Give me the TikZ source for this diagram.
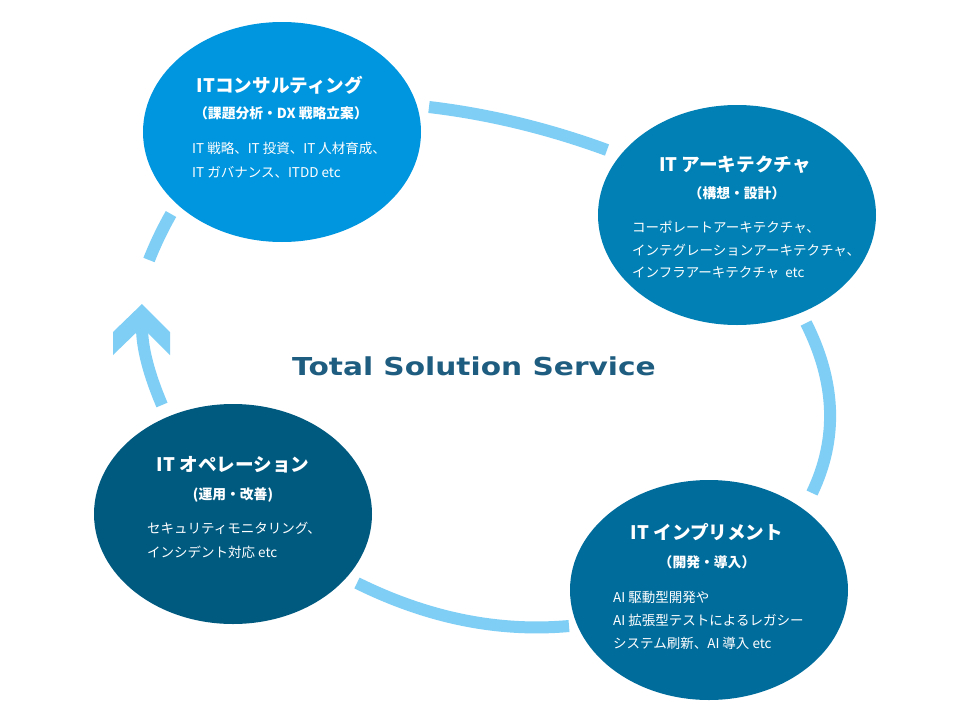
\documentclass[tikz,border=0pt]{standalone}
\usepackage{fontspec}
\usetikzlibrary{shapes.geometric}
\newfontfamily\jp{Noto Sans CJK JP}
\newfontfamily\ttl[FakeStretch=1.2]{DejaVu Sans Bold}
\definecolor{cA}{HTML}{0096DF}
\definecolor{cB}{HTML}{0080B4}
\definecolor{cC}{HTML}{006C9C}
\definecolor{cD}{HTML}{005A80}
\definecolor{arcC}{HTML}{7ECEF5}
\definecolor{ttlC}{HTML}{1F5D80}
\begin{document}
\begin{tikzpicture}[x=1pt,y=-1pt,
  bubble/.style={ellipse, minimum width=278pt, minimum height=220pt, inner sep=0pt, draw=none},
  head/.style={text=white, font=\jp\bfseries\fontsize{18.6}{22}\selectfont, inner sep=0pt},
  subt/.style={text=white, font=\jp\bfseries\fontsize{13.8}{16}\selectfont, inner sep=0pt},
  body/.style={text=white, font=\jp\fontsize{13.5}{16}\selectfont, inner sep=0pt, anchor=west},
  ring/.style={draw=arcC, line width=12pt, line cap=butt}]
\useasboundingbox[fill=white] (0,0) rectangle (978,720);

% bubbles
\node[bubble, fill=cA] (cons) at (282,132) {};
\node[bubble, fill=cB] (arch) at (737,215) {};
\node[bubble, fill=cC] (impl) at (709,590) {};
\node[bubble, fill=cD] (oper) at (233,514) {};

% connector end points
\coordinate (t1) at (429,107);
\coordinate (t2) at (607,150);
\coordinate (r1) at (806,323);
\coordinate (r2) at (812,493);
\coordinate (b1) at (569,626);
\coordinate (b2) at (357,583);
\coordinate (l1) at (162,405);
\coordinate (l2) at (142,327);
\coordinate (u1) at (149,260);
\coordinate (u2) at (171,214);

\draw[ring] (t1) .. controls (488.3,114) and (547.7,128.3) .. (t2);
\draw[ring] (r1) .. controls (836,382.3) and (838,439) .. (r2);
\draw[ring] (b1) .. controls (498.3,632.3) and (427.7,618) .. (b2);
\draw[ring] (l1) .. controls (148.7,373.7) and (142,347.7) .. (l2);
\fill[arcC] (142,304) -- (170,332) -- (170,355) -- (l2) -- (113,355) -- (113,332) -- cycle;
\draw[ring] (u1) .. controls (155,244.7) and (162.3,229.3) .. (u2);

% title
\node[text=ttlC, font=\ttl\fontsize{24.7}{28}\selectfont, inner sep=0pt] (title) at (474,366) {Total Solution Service};

% texts: consulting
\node[head] (consH) at (280,85) {ITコンサルティング};
\node[subt] (consS) at (281,113) {（課題分析・DX 戦略立案）};
\node[body] (consB1) at (192,148) {IT 戦略、IT 投資、IT 人材育成、};
\node[body] (consB2) at (192,172) {IT ガバナンス、ITDD etc};

% architecture
\node[head] (archH) at (735,165) {IT アーキテクチャ};
\node[subt] (archS) at (737,193) {（構想・設計）};
\node[body] (archB1) at (632,227) {コーポレートアーキテクチャ、};
\node[body] (archB2) at (632,250) {インテグレーションアーキテクチャ、};
\node[body] (archB3) at (632,273) {インフラアーキテクチャ\ \ etc};

% implement
\node[head] (implH) at (707,532) {IT インプリメント};
\node[subt] (implS) at (707,562) {（開発・導入）};
\node[body] (implB1) at (613,597) {AI 駆動型開発や};
\node[body] (implB2) at (613,620) {AI 拡張型テストによるレガシー};
\node[body] (implB3) at (613,643) {システム刷新、AI 導入 etc};

% operation
\node[head] (operH) at (233,465) {IT オペレーション};
\node[subt] (operS) at (233,495) {(運用・改善)};
\node[body] (operB1) at (147,528) {セキュリティモニタリング、};
\node[body] (operB2) at (147,552) {インシデント対応 etc};
\end{tikzpicture}
\end{document}
